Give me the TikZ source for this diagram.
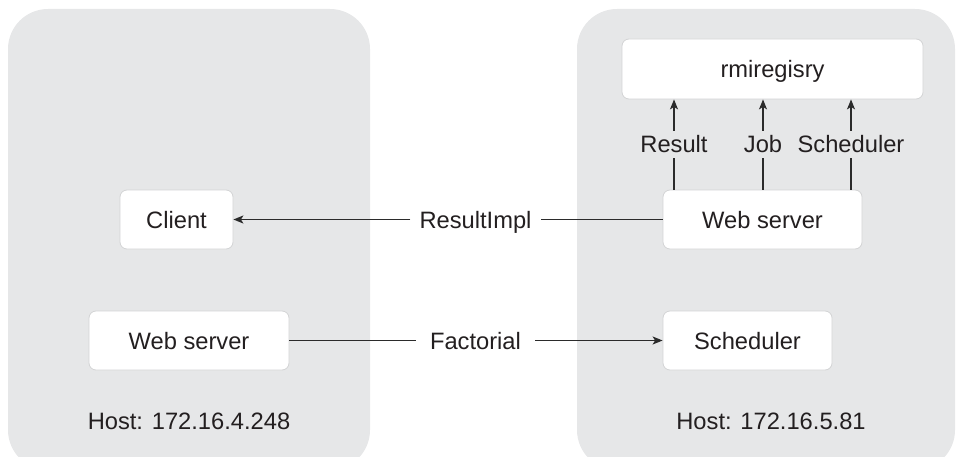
\documentclass[tikz,border=0pt]{standalone}
\usepackage{fontspec}
\setmainfont{Liberation Sans}
\usetikzlibrary{arrows.meta}
\definecolor{panel}{HTML}{E6E7E8}
\definecolor{boxline}{HTML}{D3D4D5}
\definecolor{ink}{HTML}{231F20}
\definecolor{wire}{HTML}{2B2B2B}
\tikzset{
  host/.style={fill=panel, draw=none, rounded corners=40pt},
  box/.style={draw=boxline, fill=white, line width=0.8pt, rounded corners=7pt, text=ink,
    font=\fontsize{23.7}{28}\selectfont, inner sep=0pt, text height=17pt, text depth=0pt},
  lbl/.style={text=ink, font=\fontsize{23.7}{28}\selectfont, inner xsep=8pt, inner ysep=5pt,
    text height=17pt, text depth=0pt},
  wireline/.style={draw=wire, line width=1.3pt},
  arr/.style={wireline, -{Stealth[length=10pt, width=8pt, inset=2.5pt]}}
}
\begin{document}
\begin{tikzpicture}[x=1pt, y=-1pt]
\useasboundingbox (0,0) rectangle (960,457);
\clip (0,0) rectangle (960,457);
% host panels
\fill[host] (8,9) rectangle (370,470);
\fill[host] (577,9) rectangle (955,470);
% boxes
\node[box, minimum width=301pt, minimum height=60pt] (reg) at (772.5,69) {rmiregisry};
\node[box, minimum width=199pt, minimum height=59pt] (ws2) at (762.5,219.5) {Web server};
\node[box, minimum width=113pt, minimum height=59pt] (client) at (176.5,219.5) {Client};
\node[box, minimum width=200pt, minimum height=59pt] (ws1) at (189,340.5) {Web server};
\node[box, minimum width=169pt, minimum height=59pt] (sched) at (747.5,340.5) {Scheduler};
% host labels
\node[lbl] (h1) at (189,421) {Host: 172.16.4.248};
\node[lbl] (h2) at (771,421) {Host: 172.16.5.81};
% vertical labels
\node[lbl] (lres) at (674,144.5) {Result};
\node[lbl] (ljob) at (763,144.5) {Job};
\node[lbl] (lsch) at (851,144.5) {Scheduler};
\foreach \n in {lres,ljob,lsch}{
  \draw[wireline] (ws2.north -| \n) -- (\n.south);
  \draw[arr] (\n.north) -- (\n.north |- reg.south);
}
% horizontal labels
\node[lbl, inner xsep=9pt] (lri) at (475.5,219.5) {ResultImpl};
\node[lbl, inner xsep=14pt] (lfa) at (475.5,340.5) {Factorial};
\draw[wireline] (ws2.west) -- (lri.east |- ws2.west);
\draw[arr] (lri.west |- client.east) -- (client.east);
\draw[wireline] (ws1.east) -- (lfa.west |- ws1.east);
\draw[arr] (lfa.east |- sched.west) -- (sched.west);
\end{tikzpicture}
\end{document}
